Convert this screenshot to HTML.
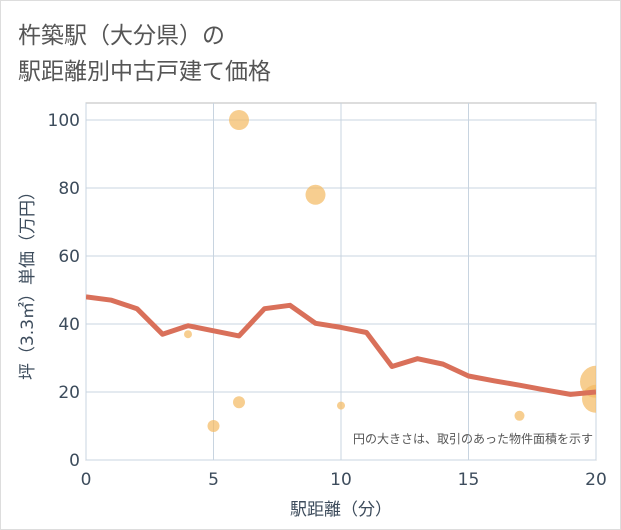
<!DOCTYPE html>
<html><head><meta charset="utf-8"><style>
body{margin:0;background:#fff;}
.wrap{width:619px;height:528px;border:1px solid #ddd;position:relative;font-family:"Liberation Sans","Noto Sans CJK JP",sans-serif;}
</style></head><body>
<div class="wrap">
<svg id="c" width="621" height="530" style="position:absolute;left:-1px;top:-1px">
<text x="18" y="43" font-size="23" fill="#555" font-family="Liberation Sans,Noto Sans CJK JP,sans-serif">杵築駅（大分県）の</text>
<text x="18" y="79" font-size="23" fill="#555" font-family="Liberation Sans,Noto Sans CJK JP,sans-serif">駅距離別中古戸建て価格</text>
</svg>
</div>
<script>
const lineX=[0,1,2,3,4,5,6,7,8,9,10,11,12,13,14,15,16,17,18,19,20];
const lineY=[48,47,44.5,37,39.5,38,36.5,44.5,45.5,40.2,39,37.5,27.5,29.8,28.2,24.7,23.3,22,20.6,19.3,20];
const bubX=[6,9,4,6,5,10,17,20,20];
const bubY=[100,78,37,17,10,16,13,23,18];
const bubS=[10,10,4,6,6,4,5,16,14];
const xTicks=[0,5,10,15,20];
const yTicks=[0,20,40,60,80,100];
const NS="http://www.w3.org/2000/svg";
const svg=document.getElementById('c');
const L=86,R=596,T=103,B=460;
const F='DejaVu Sans,Noto Sans CJK JP,sans-serif';
const sx=v=>L+(R-L)*v/20, sy=v=>B-(B-120)*v/100;
function mk(t,a,p){const e=document.createElementNS(NS,t);for(const k in a)e.setAttribute(k,a[k]);(p||svg).appendChild(e);return e;}
const defs=mk('defs',{});const cp=mk('clipPath',{id:'cp'},defs);mk('rect',{x:L,y:T,width:R-L,height:B-T},cp);
const bg=mk('rect',{x:L,y:T,width:R-L,height:B-T,fill:'#fff',stroke:'#bbb'});


xTicks.forEach(v=>{const g=mk('line',{x1:sx(v),x2:sx(v),y1:T,y2:B,stroke:'#c8d4e0'});


const t=mk('text',{x:sx(v),y:B+25,'text-anchor':'middle','font-size':17,fill:'#3d4c5c','font-family':F});t.textContent=v;

});
yTicks.forEach(v=>{const g=mk('line',{x1:L,x2:R,y1:sy(v),y2:sy(v),stroke:'#c8d4e0'});


const t=mk('text',{x:L-6,y:sy(v)+6,'text-anchor':'end','font-size':17,fill:'#3d4c5c','font-family':F});t.textContent=v;

});
const gb=mk('g',{'clip-path':'url(#cp)'});
bubX.forEach((x,i)=>{const c=mk('circle',{cx:sx(x),cy:sy(bubY[i]),r:bubS[i],fill:'#f4b961','fill-opacity':0.7},gb);

});
const p=mk('polyline',{points:lineX.map((x,i)=>sx(x)+','+sy(lineY[i])).join(' '),fill:'none',stroke:'#d9705a','stroke-width':5,'stroke-linejoin':'round'},gb);


const n=mk('text',{x:R-3,y:443,'text-anchor':'end','font-size':12,fill:'#555'});n.textContent='円の大きさは、取引のあった物件面積を示す';


const xt=mk('text',{x:(L+R)/2,y:515,'text-anchor':'middle','font-size':17,fill:'#3d4c5c','font-family':F});xt.textContent='駅距離（分）';


const yt=mk('text',{x:0,y:0,'text-anchor':'middle','font-size':17,fill:'#3d4c5c','font-family':F,transform:'translate(33,'+((T+B)/2)+') rotate(-90)'});yt.textContent='坪（3.3㎡）単価（万円）';


</script>
</body></html>
